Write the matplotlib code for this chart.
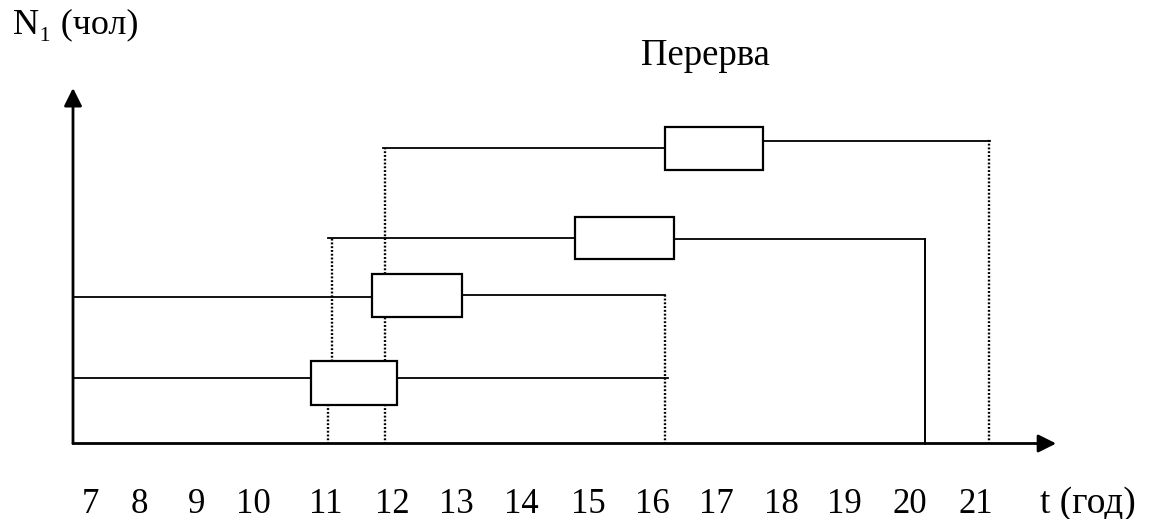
import matplotlib
matplotlib.use("Agg")
import matplotlib.pyplot as plt

# shifts: working hours, level on the N axis, lunch break box
shift_start = [7.0, 7.0, 10.89, 11.73]
shift_end = [16.08, 16.04, 20.01, 21.0]
level_left = [66, 147, 206, 296]
level_right = [66, 149, 205, 303]
break_start = [10.63, 11.57, 14.66, 16.04]
break_end = [11.94, 12.94, 16.18, 17.53]
break_low = [39, 127, 185, 274]
break_high = [83, 170, 227, 317]

# vertical drops to the time axis: (t, y from, y to)
dotted_drops = [(11.77, 0, 296), (10.95, 75, 206), (10.89, 0, 38),
                (16.04, 0, 149), (20.99, 0, 305)]
solid_drops = [(20.01, 0, 205)]

hours = [str(h) for h in range(7, 22)]
hour_pos = [7.26, 8.01, 8.88, 9.75, 10.86, 11.87, 12.86, 13.85,
            14.86, 15.84, 16.83, 17.81, 18.77, 19.78, 20.79]

serif = ['Liberation Serif', 'DejaVu Serif']

fig = plt.figure(figsize=(11.5, 5.19), dpi=100)
ax = fig.add_axes([0, 0, 1, 1])
ax.set_xlim(7 - 73 / 65.5, 7 + 1077 / 65.5)
ax.set_ylim(-75.5, 443.5)
ax.axis('off')

# axes with arrows
arrow = dict(arrowstyle='-|>,head_length=0.4,head_width=0.2', mutation_scale=27,
             lw=2.0, color='black', shrinkA=0, shrinkB=0)
ax.annotate('', xy=(22.01, 0), xytext=(7.0, 0), arrowprops=arrow)
ax.annotate('', xy=(7.0, 355.5), xytext=(7.0, 0), arrowprops=arrow)

for i in range(len(shift_start)):
    ax.plot([shift_start[i], break_start[i]], [level_left[i]] * 2, color='black', lw=1.3)
    ax.plot([break_end[i], shift_end[i]], [level_right[i]] * 2, color='black', lw=1.3)
    ax.add_patch(plt.Rectangle((break_start[i], break_low[i]),
                               break_end[i] - break_start[i],
                               break_high[i] - break_low[i],
                               fill=True, facecolor='white', edgecolor='black',
                               lw=1.6, zorder=3))

for t, y0, y1 in dotted_drops:
    ax.plot([t, t], [y0, y1], color='black', lw=1.7, linestyle=(0, (0.8, 0.8)))
for t, y0, y1 in solid_drops:
    ax.plot([t, t], [y0, y1], color='black', lw=1.4)

for lab, x in zip(hours, hour_pos):
    ax.text(x, -69.5, lab, ha='center', va='baseline', fontsize=25, family=serif)
ax.text(21.76, -69.5, 't (год)', ha='left', va='baseline', fontsize=27, family=serif)

ax.text(6.08, 410.5, 'N₁ (чол)', ha='left', va='baseline', fontsize=26, family=serif)
ax.text(15.67, 378.5, 'Перерва', ha='left', va='baseline', fontsize=26.5, family=serif)

plt.savefig('out.png', dpi=100)
